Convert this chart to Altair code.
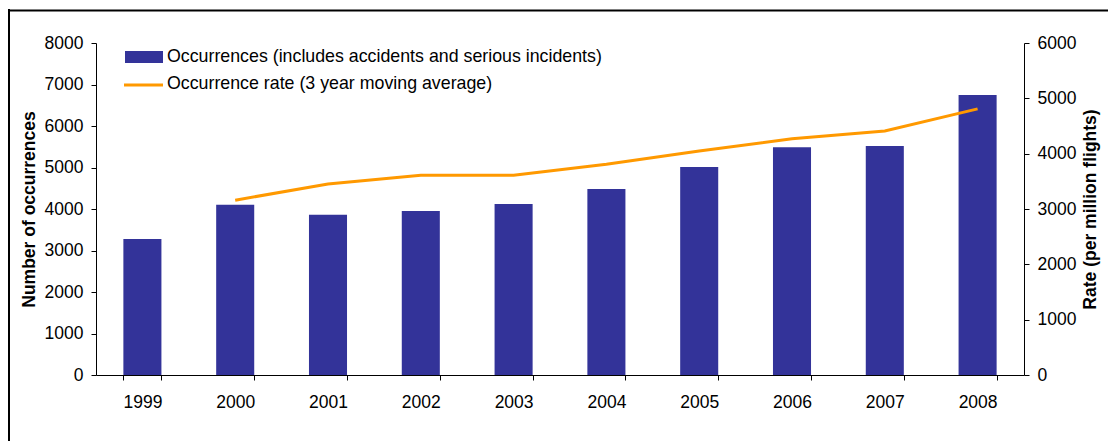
import altair as alt
import pandas as pd

years = ["1999", "2000", "2001", "2002", "2003", "2004", "2005", "2006", "2007", "2008"]
occurrences = [3280, 4100, 3860, 3950, 4120, 4480, 5010, 5490, 5520, 6750]
rate_years = ["2000", "2001", "2002", "2003", "2004", "2005", "2006", "2007", "2008"]
rate = [3160, 3450, 3610, 3610, 3810, 4050, 4270, 4410, 4810]
legend_labels = ["Occurrences (includes accidents and serious incidents)",
                 "Occurrence rate (3 year moving average)"]
left_title = "Number of occurrences"
right_title = "Rate (per million flights)"

BAR = "#333399"
LINE = "#FF9900"
FONT = "Liberation Sans"
FS = 17.5
LFS = 17.8

bars_df = pd.DataFrame({"year": years, "occ": occurrences})
rate_df = pd.DataFrame({"year": rate_years, "rate": rate})
one = pd.DataFrame({"k": [0]})

xscale = alt.Scale(domain=years, paddingInner=0.59, paddingOuter=0.295)
xaxis = alt.Axis(title=None, labelAngle=0, tickBand="extent", tickSize=5,
                 labelPadding=13, domainColor="#000000", tickColor="#000000",
                 labelColor="#000000", labelFontSize=FS, labelFont=FONT)

bars = alt.Chart(bars_df).mark_bar(color=BAR).encode(
    x=alt.X("year:N", scale=xscale, axis=xaxis, sort=years),
    y=alt.Y("occ:Q", scale=alt.Scale(domain=[0, 8000], nice=False),
            axis=alt.Axis(values=list(range(0, 8001, 1000)), format="d", title=left_title,
                          titleAngle=270, titleX=-67, titleY=166,
                          titleAlign="center", titleBaseline="middle",
                          titleFontSize=FS, titleFont=FONT, titleFontWeight="bold",
                          titleColor="#000000",
                          tickSize=5, labelPadding=8, labelFontSize=FS, labelFont=FONT,
                          labelColor="#000000", domainColor="#000000",
                          tickColor="#000000", grid=False, orient="left")),
)

line = alt.Chart(rate_df).mark_line(color=LINE, strokeWidth=3).encode(
    x=alt.X("year:N", scale=xscale, axis=xaxis, sort=years),
    y=alt.Y("rate:Q", scale=alt.Scale(domain=[0, 6000], nice=False),
            axis=alt.Axis(values=list(range(0, 6001, 1000)), format="d", title=right_title,
                          titleAngle=270, titleX=66, titleY=166,
                          titleAlign="center", titleBaseline="middle",
                          titleFontSize=FS, titleFont=FONT, titleFontWeight="bold",
                          titleColor="#000000",
                          tickSize=5, labelPadding=8, labelFontSize=FS, labelFont=FONT,
                          labelColor="#000000", domainColor="#000000",
                          tickColor="#000000", grid=False, orient="right")),
)

leg_rect = alt.Chart(one).mark_rect(color=BAR).encode(
    x=alt.value(29), x2=alt.value(67), y=alt.value(8), y2=alt.value(20))
leg_line = alt.Chart(one).mark_rule(color=LINE, strokeWidth=3).encode(
    x=alt.value(28), x2=alt.value(67), y=alt.value(42))
leg_t1 = alt.Chart(one).mark_text(text=legend_labels[0], align="left", baseline="middle",
                                  font=FONT, fontSize=LFS, color="#000000").encode(
    x=alt.value(71), y=alt.value(14))
leg_t2 = alt.Chart(one).mark_text(text=legend_labels[1], align="left", baseline="middle",
                                  font=FONT, fontSize=LFS, color="#000000").encode(
    x=alt.value(71), y=alt.value(41))

frame_left = alt.Chart(one).mark_rule(color="#000000", strokeWidth=2).encode(
    x=alt.value(-87), y=alt.value(-34), y2=alt.value(420))
frame_top = alt.Chart(one).mark_rule(color="#000000", strokeWidth=2).encode(
    x=alt.value(-88), x2=alt.value(1030), y=alt.value(-32.5))

chart = alt.layer(bars, line, leg_rect, leg_line, leg_t1, leg_t2, frame_left, frame_top).resolve_scale(
    y="independent"
).properties(
    width=928, height=332,
    autosize=alt.AutoSizeParams(type="none"),
    padding={"left": 96, "top": 43, "right": 84, "bottom": 66},
    background="white",
).configure_view(stroke=None).configure_axis(grid=False)

chart.save("out.html", embed_options={"renderer": "svg", "actions": False})
